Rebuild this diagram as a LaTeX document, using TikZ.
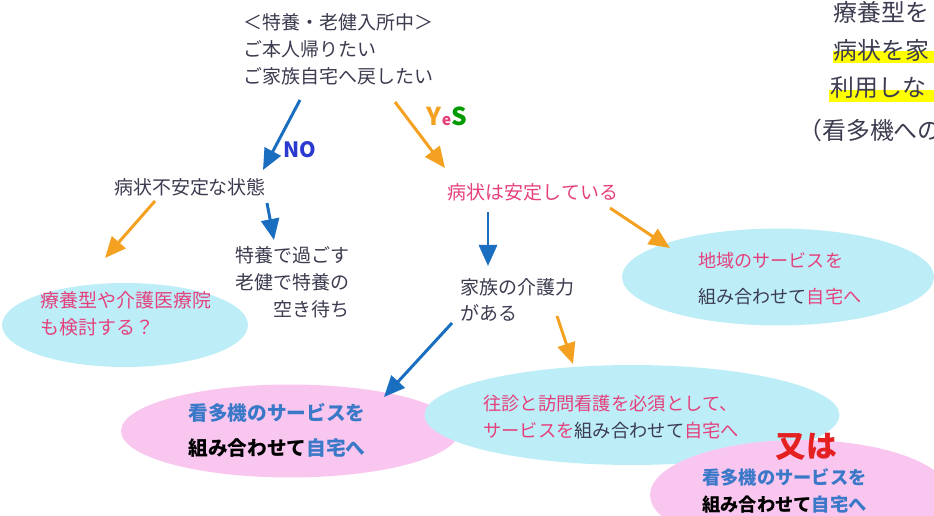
\documentclass[tikz,border=0pt]{standalone}
\usepackage{fontspec}
\usetikzlibrary{arrows.meta,shapes.geometric}
\newfontfamily\jpfont{Noto Sans CJK JP}
\definecolor{txtgray}{HTML}{3C3C50}
\definecolor{txtpink}{HTML}{E5407C}
\definecolor{txtblue}{HTML}{3A78C8}
\definecolor{arrowblue}{HTML}{1A6EC0}
\definecolor{arroworange}{HTML}{F4A020}
\definecolor{blobcyan}{HTML}{BDEEF8}
\definecolor{blobpink}{HTML}{F9C6F0}
\definecolor{hiyellow}{HTML}{FFFF00}
\definecolor{orred}{HTML}{E52020}
\definecolor{noblue}{HTML}{2A3AD0}
\tikzset{
  bluearrow/.style={line width=1.7pt, draw=arrowblue, -{Triangle[length=0.42cm,width=0.36cm]}},
  orangearrow/.style={line width=1.7pt, draw=arroworange, -{Triangle[length=0.42cm,width=0.36cm]}},
  cyanblob/.style={ellipse, fill=blobcyan, inner sep=0pt},
  pinkblob/.style={ellipse, fill=blobpink, inner sep=0pt},
  jptext/.style={font={\jpfont\fontsize{10.8}{15.3}\selectfont}, text=txtgray, inner sep=0pt},
  pinktext/.style={jptext, text=txtpink},
  sidetext/.style={font={\jpfont\fontsize{13.6}{16}\selectfont}, text=txtgray, inner sep=0pt, anchor=west},
}

\begin{document}
\begin{tikzpicture}[x=0.02cm, y=-0.02cm]
\useasboundingbox (0,0) rectangle (934,516);
\clip (0,0) rectangle (934,516);
% side note, cut off at the right
\fill[hiyellow] (833,51) rectangle (934,63);
\fill[hiyellow] (829,90) rectangle (934,102);
\node[sidetext] (side1) at (833,12) {療養型を};
\node[sidetext] (side2) at (833,50) {病状を家};
\node[sidetext] (side3) at (830,88) {利用しな};
\node[sidetext] (side4) at (798,130) {（看多機への};
% blobs
\node[cyanblob, minimum width=4.92cm, minimum height=1.68cm] (kentou) at (125,325) {};
\node[cyanblob, minimum width=6.24cm, minimum height=1.94cm] (chiiki) at (778,277) {};
\node[pinkblob, minimum width=6.76cm, minimum height=1.86cm] (kantaki) at (290,431) {};
\node[cyanblob, minimum width=8.3cm, minimum height=2.0cm] (houmon) at (632,415) {};
\node[pinkblob, minimum width=6.0cm, minimum height=2.2cm] (kantaki2) at (800,495) {};
% texts
\node[jptext, anchor=west, align=left] (start) at (243,49) {＜特養・老健入所中＞\\ご本人帰りたい\\ご家族自宅へ戻したい};
\node[jptext] (unstable) at (190,187) {病状不安定な状態};
\node[jptext, anchor=east, align=right] (tokuyou) at (350,282) {特養で過ごす\\老健で特養の\\空き待ち};
\node[pinktext, anchor=west, align=left] (kentoutxt) at (40,314) {療養型や介護医療院\\も検討する？};
\node[pinktext] (stable) at (533,192) {病状は安定している};
\node[jptext, anchor=west, align=left] (kaigo) at (460,300) {家族の介護力\\がある};
\node[pinktext, anchor=west, align=left, font={\jpfont\fontsize{10.3}{20.4}\selectfont}] (chiikitxt) at (698,279)
  {地域のサービスを\\{\color{txtgray}組み合わせて}自宅へ};
\node[jptext, anchor=west, align=left, font={\jpfont\bfseries\fontsize{11.2}{19.8}\selectfont}, text=txtblue] (kantakitxt) at (188,430)
  {看多機のサービスを\\{\color{black}組み合わせて}自宅へ};
\node[pinktext, anchor=west, align=left, font={\jpfont\fontsize{10.4}{15.3}\selectfont}] (houmontxt) at (483,417)
  {往診と訪問看護を必須として、\\サービスを{\color{txtgray}組み合わせて}自宅へ};
\node[jptext, font={\jpfont\bfseries\fontsize{17.5}{20}\selectfont}, text=orred] (mata) at (806,447) {又は};
\node[jptext, anchor=west, align=left, font={\jpfont\bfseries\fontsize{10.4}{15.3}\selectfont}, text=txtblue] (kantaki2txt) at (702,491)
  {看多機のサービスを\\{\color{black}組み合わせて}自宅へ};
\node[jptext, font={\jpfont\bfseries\fontsize{12}{14}\selectfont}, text=noblue] (nolabel) at (300,150) {NO};
\node[jptext, font={\jpfont\bfseries\fontsize{14}{16}\selectfont}] (yeslabel) at (447,116)
  {{\color{arroworange}Y}{\color{txtpink}\fontsize{9}{10}\selectfont e}{\color{green!60!black}S}};
% arrow ends
\coordinate (no-a) at (300,100);   \coordinate (no-b) at (263,170);
\coordinate (yes-a) at (395,102);  \coordinate (yes-b) at (445,168);
\coordinate (ken-a) at (155,201);  \coordinate (ken-b) at (105,258);
\coordinate (tok-a) at (267,203);  \coordinate (tok-b) at (274,240);
\coordinate (kai-a) at (488,212);  \coordinate (kai-b) at (488,266);
\coordinate (chi-a) at (610,208);  \coordinate (chi-b) at (670,248);
\coordinate (kan-a) at (452,323);  \coordinate (kan-b) at (384,397);
\coordinate (hou-a) at (557,316);  \coordinate (hou-b) at (573,364);
\draw[bluearrow] (no-a) -- (no-b);
\draw[orangearrow] (yes-a) -- (yes-b);
\draw[orangearrow] (ken-a) -- (ken-b);
\draw[bluearrow] (tok-a) -- (tok-b);
\draw[bluearrow] (kai-a) -- (kai-b);
\draw[orangearrow] (chi-a) -- (chi-b);
\draw[bluearrow] (kan-a) -- (kan-b);
\draw[orangearrow] (hou-a) -- (hou-b);
\end{tikzpicture}
\end{document}
